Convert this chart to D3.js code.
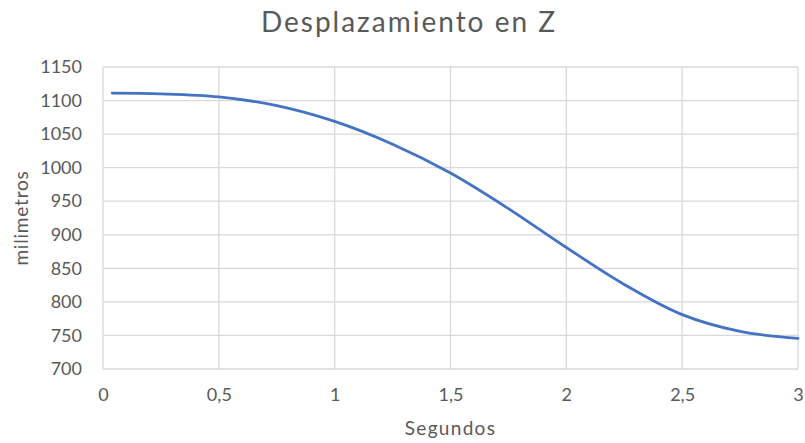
<!DOCTYPE html>
<html>
<head>
<meta charset="utf-8">
<script src="https://cdn.jsdelivr.net/npm/d3@7"></script>
<style>
  html, body { margin: 0; padding: 0; background: #fff; }
  svg text { font-family: Lato, "Open Sans", sans-serif; fill: #595959; }
</style>
</head>
<body>
<svg id="chart" width="805" height="443"></svg>
<script>
// Z displacement over time (seconds, millimetres)
const seconds = [0.04, 0.25, 0.5, 0.75, 1.0, 1.25, 1.5, 1.75, 2.0, 2.25, 2.5, 2.75, 3.0];
const millimetres = [1111, 1110, 1105.5, 1092.5, 1069, 1035, 992, 939, 881, 826, 781, 756, 745.5];
const xTicks = [0, 0.5, 1, 1.5, 2, 2.5, 3];
const yTicks = [700, 750, 800, 850, 900, 950, 1000, 1050, 1100, 1150];

const title = "Desplazamiento en Z";
const xTitle = "Segundos";
const yTitle = "milimetros";

const svg = d3.select("#chart");
const W = 805, H = 443;
const margin = { left: 103, right: W - 798, top: 67, bottom: H - 369 };

const x = d3.scaleLinear().domain([0, 3]).range([margin.left, W - margin.right]);
const y = d3.scaleLinear().domain([700, 1150]).range([H - margin.bottom, margin.top]);

const fmt = d => String(d).replace(".", ",");

// gridlines
const grid = svg.append("g");
grid.selectAll("line.h").data(yTicks).join("line")
  .attr("x1", x(0)).attr("x2", x(3))
  .attr("y1", d => y(d)).attr("y2", d => y(d))
  .attr("stroke", "#d9d9d9").attr("stroke-width", 1.3);
grid.selectAll("line.v").data(xTicks).join("line")
  .attr("y1", y(700)).attr("y2", y(1150))
  .attr("x1", d => x(d)).attr("x2", d => x(d))
  .attr("stroke", "#d9d9d9").attr("stroke-width", 1.3);

// axes (labels only)
const yAxis = svg.append("g").attr("transform", `translate(${x(0)},0)`)
  .call(d3.axisLeft(y).tickValues(yTicks).tickSize(0).tickPadding(21).tickFormat(d => d));
const xAxis = svg.append("g").attr("transform", `translate(0,${y(700)})`)
  .call(d3.axisBottom(x).tickValues(xTicks).tickSize(0).tickPadding(19).tickFormat(fmt));
[yAxis, xAxis].forEach(a => {
  a.select(".domain").remove();
  a.selectAll("text").style("font-size", "18px").attr("fill", "#595959");
});

// curve
svg.append("path")
  .datum(seconds.map((s, i) => [s, millimetres[i]]))
  .attr("fill", "none")
  .attr("stroke", "#4472c4")
  .attr("stroke-width", 2.8)
  .attr("stroke-linecap", "round")
  .attr("d", d3.line().x(d => x(d[0])).y(d => y(d[1])).curve(d3.curveCatmullRom.alpha(0.5)));

// titles
svg.append("text").attr("x", 409).attr("y", 32).attr("text-anchor", "middle")
  .style("font-size", "28px").style("letter-spacing", "2px").text(title);
svg.append("text").attr("x", (x(0) + x(3)) / 2).attr("y", 435).attr("text-anchor", "middle")
  .style("font-size", "19px").style("letter-spacing", "1.3px").text(xTitle);
svg.append("text").attr("transform", `translate(28,${(y(700) + y(1150)) / 2}) rotate(-90)`)
  .attr("text-anchor", "middle").style("font-size", "19px").style("letter-spacing", "0.8px").text(yTitle);
</script>
</body>
</html>
